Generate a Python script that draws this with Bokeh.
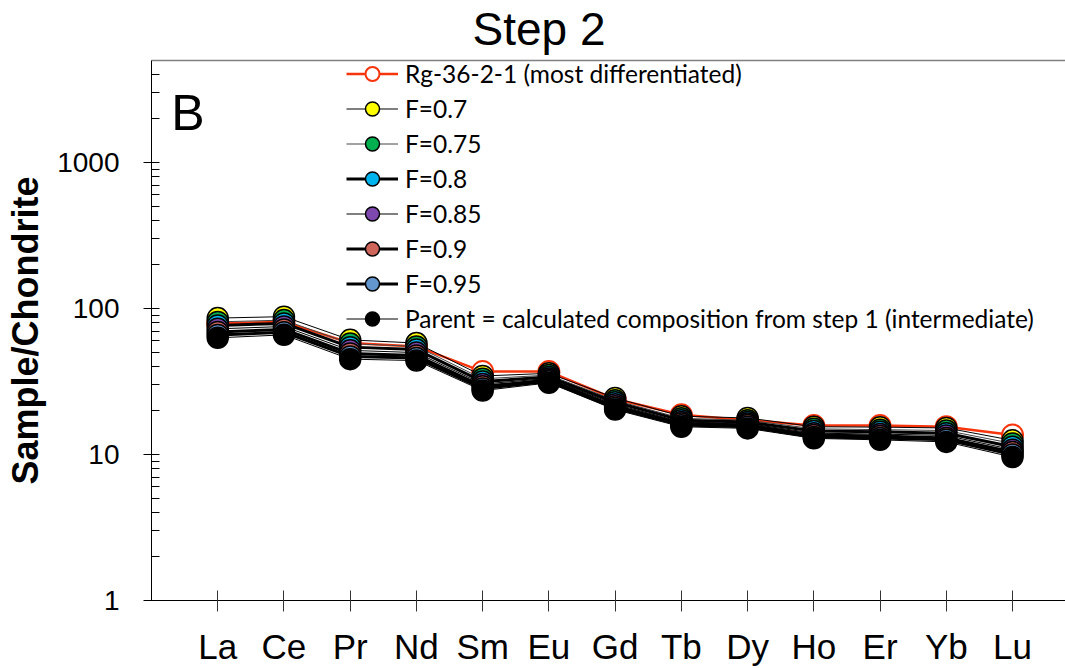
from bokeh.plotting import figure
from bokeh.models import (Range1d, FixedTicker, LinearAxis, Label, Legend, LegendItem,
                          NumeralTickFormatter)
from bokeh.embed import file_html
from bokeh.resources import INLINE

elements = ["La", "Ce", "Pr", "Nd", "Sm", "Eu", "Gd", "Tb", "Dy", "Ho", "Er", "Yb", "Lu"]

rg_36_2_1 = [79, 81, 58, 55, 37, 37, 24, 18.7, 17.2, 15.8, 15.8, 15.5, 13.6]
f_070 = [86, 88, 61, 58, 34.5, 36, 24.4, 18.3, 17.8, 15.5, 15.4, 15.2, 12.5]
f_075 = [81.0, 83.3, 57.5, 55.0, 33.0, 35.0, 23.5, 17.7, 17.2, 15.0, 14.8, 14.6, 11.9]
f_080 = [76.5, 79.1, 54.4, 52.3, 31.6, 34.0, 22.8, 17.2, 16.7, 14.5, 14.3, 14.0, 11.3]
f_085 = [72.6, 75.3, 51.7, 49.9, 30.4, 33.2, 22.1, 16.7, 16.3, 14.0, 13.8, 13.5, 10.8]
f_090 = [69.1, 71.9, 49.2, 47.7, 29.3, 32.4, 21.4, 16.3, 15.9, 13.6, 13.4, 13.0, 10.4]
f_095 = [65.9, 68.8, 47.0, 45.8, 28.3, 31.7, 20.8, 15.9, 15.5, 13.2, 13.0, 12.6, 10.0]
parent = [63, 66, 45, 44, 27.4, 31, 20.3, 15.5, 15.1, 12.9, 12.6, 12.2, 9.6]

series_names = ["Rg-36-2-1 (most differentiated)", "F=0.7", "F=0.75", "F=0.8",
                "F=0.85", "F=0.9", "F=0.95",
                "Parent = calculated composition from step 1 (intermediate)"]
series_values = [rg_36_2_1, f_070, f_075, f_080, f_085, f_090, f_095, parent]
marker_fill = ["white", "#FFFF00", "#00B050", "#00B4EE", "#7E48AE", "#CF665C", "#6396CC", "black"]
marker_line = ["#F8340C", "black", "black", "black", "black", "black", "black", "black"]
line_color = ["#F8340C", "black", "#444444", "black", "black", "black", "black", "black"]
line_width = [2.5, 1, 1, 3, 1, 3, 3, 1]

x = [i + 1 for i in range(len(elements))]

p = figure(width=1065, height=668, y_axis_type="log",
           x_range=Range1d(0, 13.8), y_range=Range1d(1, 5000),
           output_backend="svg", toolbar_location=None,
           min_border_left=151, min_border_right=0, min_border_bottom=66, min_border_top=58)
p.xgrid.visible = False
p.ygrid.visible = False
p.outline_line_color = None
p.background_fill_color = "white"
p.border_fill_color = "white"

xa = p.below[0]
ya = p.left[0]

# title
p.title.text = "Step 2"
p.title.text_font = "Liberation Sans"
p.title.text_font_size = "46px"
p.title.text_font_style = "normal"
p.title.text_color = "black"
p.title.align = "left"
p.title.offset = 321
p.title.standoff = 0

# top border line
top_axis = LinearAxis(axis_line_color="#808080", axis_line_width=1.5,
                      major_tick_line_color=None, minor_tick_line_color=None,
                      major_label_text_font_size="0px", major_label_standoff=0,
                      major_label_text_alpha=0)
p.add_layout(top_axis, "above")

xa.ticker = FixedTicker(ticks=x)
xa.major_label_overrides = {xi: el for xi, el in zip(x, elements)}
xa.major_label_text_font = "Liberation Sans"
xa.major_label_text_font_size = "35px"
xa.major_label_text_color = "black"
xa.major_label_standoff = 15
xa.major_tick_in = 10
xa.major_tick_out = 11
xa.minor_tick_line_color = None
xa.axis_line_color = "black"
xa.major_tick_line_color = "#333333"

# y axis
major_y = [1, 10, 100, 1000]
minor_y = [m * d for d in [1, 10, 100, 1000] for m in range(2, 10) if m * d < 5000]
ya.ticker = FixedTicker(ticks=major_y, minor_ticks=minor_y)
ya.formatter = NumeralTickFormatter(format="0")
ya.major_label_text_font = "Liberation Sans"
ya.major_label_text_font_size = "28px"
ya.major_label_text_color = "black"
ya.major_label_standoff = 24
ya.major_tick_in = 8
ya.major_tick_out = 8
ya.minor_tick_in = 8
ya.minor_tick_out = 0
ya.axis_line_color = "black"
ya.axis_label = "Sample/Chondrite"
ya.axis_label_text_font = "Liberation Sans"
ya.axis_label_text_font_size = "36px"
ya.axis_label_text_font_style = "bold"
ya.axis_label_text_color = "black"
ya.axis_label_standoff = 8

items = []
for name, vals, mf, ml, lc, lw in zip(series_names, series_values, marker_fill,
                                      marker_line, line_color, line_width):
    ln = p.line(x, vals, line_color=lc, line_width=lw)
    sc = p.scatter(x, vals, size=21, marker="circle", fill_color=mf,
                   line_color=ml, line_width=2 if ml != "black" else 1.5)
    items.append(LegendItem(label=name, renderers=[ln, sc]))

legend = Legend(items=items, location=(195, 264), glyph_width=52, glyph_height=35,
                label_height=35, spacing=0, padding=0, margin=0, label_standoff=7,
                background_fill_alpha=0, border_line_color=None,
                label_text_font="Lato", label_text_font_size="24.5px",
                label_text_color="black")
p.add_layout(legend)

p.add_layout(Label(x=0.3, y=2200, text="B", text_font="Liberation Sans",
                   text_font_size="50px", text_baseline="middle", text_align="left",
                   text_color="black"))

open("out.html", "w").write(file_html(p, INLINE))
